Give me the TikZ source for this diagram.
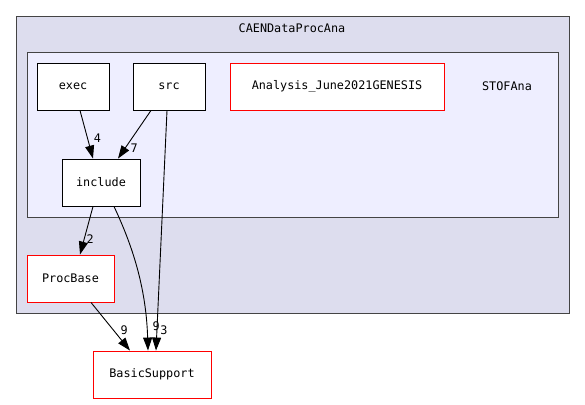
\documentclass[tikz,border=0pt]{standalone}
\usepackage{fontspec}
\newfontfamily\dxfont{DejaVu Sans Mono}
\usetikzlibrary{arrows.meta,positioning}
\definecolor{outerfill}{HTML}{DDDDEE}
\definecolor{innerfill}{HTML}{EEEEFF}
\definecolor{clusterline}{HTML}{444444}
\begin{document}
\begin{tikzpicture}[
  x=1pt,y=-1pt,
  every node/.style={font=\dxfont\fontsize{11.8}{13}\selectfont},
  cluster/.style={draw=clusterline,line width=0.9pt,inner sep=0pt},
  dir/.style={draw,line width=0.9pt,fill=white,inner sep=0pt,minimum height=47pt},
  ext/.style={dir,draw=red},
  dep/.style={-{Triangle[length=13pt,width=9pt]},line width=0.9pt},
  num/.style={inner sep=0pt}
]
\useasboundingbox (0,0) rectangle (585,404);
% clusters
\node[cluster,fill=outerfill,minimum width=553pt,minimum height=297pt] (caen) at (292.5,164.5) {};
\node (caenlbl) at (292,28) {CAENDataProcAna};
\node[cluster,fill=innerfill,minimum width=531pt,minimum height=165pt] (stof) at (292.5,134.5) {};
\node (stoflbl) at (507,86) {STOFAna};
% directories
\node[dir,minimum width=72pt] (exec) at (73,86.5) {exec};
\node[dir,minimum width=72pt] (src) at (169,86.5) {src};
\node[ext,minimum width=214pt] (ana) at (337,86.5) {Analysis\_June2021GENESIS};
\node[dir,minimum width=78pt] (include) at (101,182.5) {include};
\node[ext,minimum width=87pt] (procbase) at (70.5,278.5) {ProcBase};
\node[ext,minimum width=118pt] (basic) at (152,374.5) {BasicSupport};
% dependencies
\draw[dep] ([xshift=7pt]exec.south) -- ([xshift=-8pt]include.north)
  node[num,pos=0.57,right=6pt] (n4) {4};
\draw[dep] ([xshift=-18pt]src.south) -- ([xshift=17pt]include.north)
  node[num,pos=0.78,right=5pt] (n7) {7};
\draw[dep] ([xshift=-2pt]src.south) -- ([xshift=4pt]basic.north)
  node[num,pos=0.917,right=3pt] (n3) {3};
\draw[dep] ([xshift=-8pt]include.south) -- ([xshift=9.5pt]procbase.north)
  node[num,pos=0.67,right=2pt] (n2) {2};
\draw[dep] ([xshift=13pt]include.south) .. controls +(14,30) and +(-2,-70) .. ([xshift=-4pt]basic.north)
  node[num,pos=0.88,right=5.5pt] (n9a) {9};
\draw[dep] ([xshift=20.5pt]procbase.south) -- ([xshift=-22pt]basic.north)
  node[num,pos=0.57,right=7pt] (n9b) {9};
\end{tikzpicture}
\end{document}
